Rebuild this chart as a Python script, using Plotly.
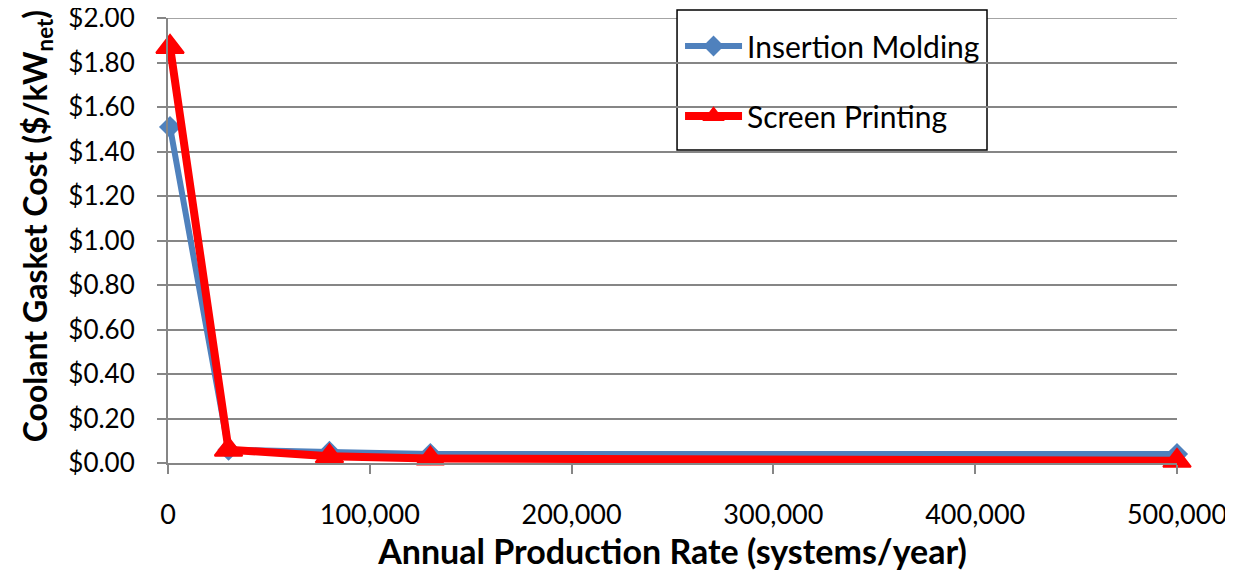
import plotly.graph_objects as go

# Annual production rate (systems/year)
production_rate = [1000, 30000, 80000, 130000, 500000]

# Coolant gasket cost ($/kW_net)
insertion_molding = [1.51, 0.06, 0.05, 0.04, 0.04]
screen_printing = [1.87, 0.06, 0.03, 0.02, 0.01]

FONT = "Lato"
GRID = '#868686'

fig = go.Figure()

fig.add_trace(go.Scatter(x=production_rate, y=insertion_molding, name='Insertion Molding',
                         mode='lines+markers', legendgroup='a',
                         line=dict(color='#4F81BD', width=6),
                         marker=dict(symbol='diamond', size=17, color='#4F81BD'),
                         cliponaxis=False))
fig.add_trace(go.Scatter(x=production_rate, y=screen_printing, name='Screen Printing',
                         mode='lines+markers', legendgroup='b',
                         line=dict(color='#FF0000', width=8),
                         marker=dict(symbol='triangle-up', size=24, color='#FF0000',
                                     line=dict(color='#FF0000', width=2)),
                         cliponaxis=False))

# top gridline ($2.00) - plotly drops the grid line sitting on the range edge
fig.add_shape(type='line', xref='paper', yref='y', x0=0, x1=1, y0=2, y1=2,
              line=dict(color=GRID, width=1.5), layer='below')

# legend frame drawn as a shape so its padding matches the reference
fig.add_shape(type='rect', xref='paper', yref='paper',
              x0=0.5045, x1=0.8117, y0=0.7034, y1=1.018,
              line=dict(color='black', width=1.5), fillcolor='white', layer='below')

# y title as annotation (sits a little above the centre, like the original)
fig.add_annotation(text='<b>Coolant Gasket Cost ($/kW<sub>net</sub>)</b>',
                   xref='paper', yref='paper', x=-0.1298, y=0.532,
                   xanchor='center', yanchor='middle', textangle=-90,
                   showarrow=False, font=dict(family=FONT, size=32, color='black'))

# page body adds an 8px margin, so the figure is 8px smaller each way
fig.update_layout(
    width=1225, height=563,
    margin=dict(l=160, r=56, t=10, b=108, autoexpand=False),
    plot_bgcolor='white', paper_bgcolor='white',
    font=dict(family=FONT, size=27, color='black'),
    legend=dict(xref='container', yref='container', x=0.5486, y=0.9787,
                xanchor='left', yanchor='top',
                borderwidth=0, bgcolor='rgba(0,0,0,0)',
                traceorder='grouped', tracegroupgap=28, itemwidth=57,
                font=dict(family=FONT, size=30, color='black')),
    xaxis=dict(range=[0, 500000], dtick=100000, tickformat=',', showgrid=False,
               showline=True, linecolor=GRID, linewidth=2,
               ticks='outside', ticklen=9, tickcolor=GRID, tickwidth=2,
               ticklabelstandoff=18, ticklabeloverflow='allow',
               zeroline=False, automargin=False,
               title=dict(text='<b>Annual Production Rate (systems/year)</b>',
                          font=dict(family=FONT, size=34), standoff=0)),
    yaxis=dict(range=[0, 2], dtick=0.2, tickprefix='$', tickformat='.2f',
               tickfont=dict(size=26),
               showgrid=True, gridcolor=GRID, gridwidth=1.5,
               showline=True, linecolor=GRID, linewidth=2,
               ticks='outside', ticklen=9, tickcolor=GRID, tickwidth=2,
               ticklabelstandoff=17, ticklabeloverflow='allow',
               zeroline=False, automargin=False),
)

fig.write_html("out.html")
